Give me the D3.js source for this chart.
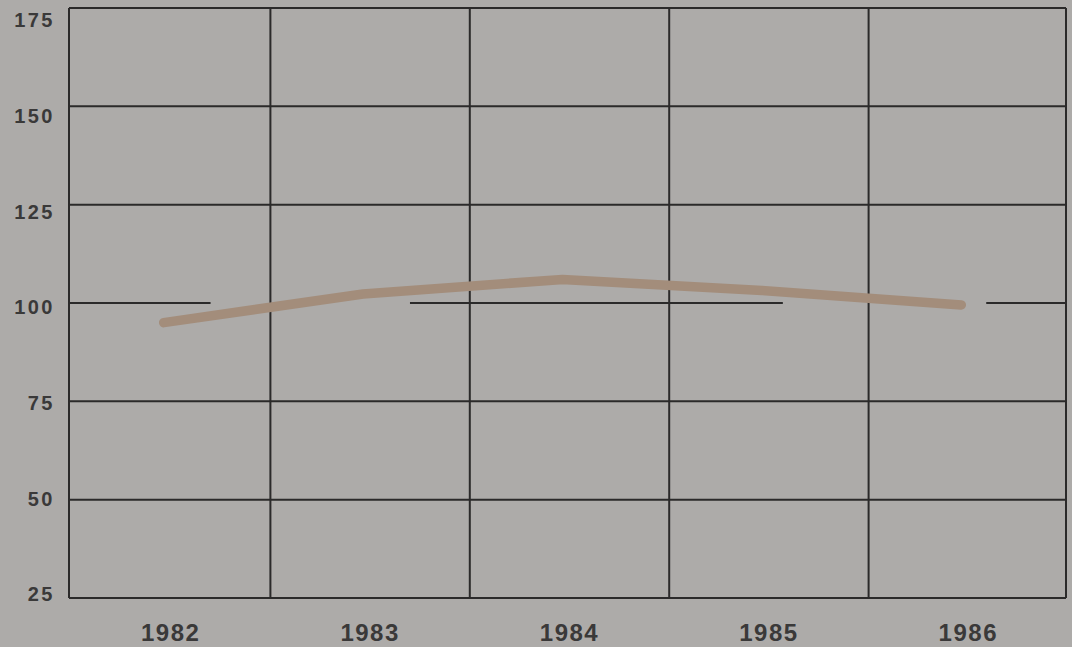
<!DOCTYPE html>
<html>
<head>
<meta charset="utf-8">
<script src="https://cdn.jsdelivr.net/npm/d3@7"></script>
<style>
  html, body { margin: 0; padding: 0; background: #adaba9; }
  svg { display: block; }
</style>
</head>
<body>
<svg id="chart" width="1072" height="647"></svg>
<script>
// ---- data ----
const years = ["1982", "1983", "1984", "1985", "1986"];
const values = [95, 102.3, 106, 103.2, 99.5];
const yTicks = [175, 150, 125, 100, 75, 50, 25];
// reference line at 100 is drawn in broken segments (in year units)
const refValue = 100;
const refSegments = [[1981.5, 1982.21], [1983.21, 1985.08], [1986.1, 1986.5]];

(function () {
const pLeft = 69, pRight = 1066, pTop = 8, pBottom = 598;

const svg = d3.select("#chart");

const x = d3.scaleBand().domain(years).range([pLeft + 2, pRight + 2]).padding(0);
const xYear = d3.scaleLinear().domain([1981.5, 1986.5]).range([pLeft, pRight]);
const y = d3.scaleLinear().domain([25, 175]).range([pBottom, pTop]);
const yLabel = d3.scaleLinear().domain([25, 175]).range([594, 20]);

const ink = "#2b2a2a";

// horizontal grid lines (except 100, which is broken)
svg.append("g").selectAll("line")
  .data(yTicks.filter(v => v !== refValue))
  .join("line")
  .attr("x1", pLeft).attr("x2", pRight)
  .attr("y1", d => y(d)).attr("y2", d => y(d))
  .attr("stroke", ink).attr("stroke-width", 2);

// vertical grid lines at band boundaries
const bounds = [pLeft].concat(years.slice(1).map(yr => x(yr))).concat([pRight]);
svg.append("g").selectAll("line")
  .data(bounds)
  .join("line")
  .attr("x1", d => d).attr("x2", d => d)
  .attr("y1", pTop).attr("y2", pBottom)
  .attr("stroke", ink).attr("stroke-width", 2);

// broken reference line at 100
svg.append("g").selectAll("line")
  .data(refSegments)
  .join("line")
  .attr("x1", d => xYear(d[0])).attr("x2", d => xYear(d[1]))
  .attr("y1", y(refValue)).attr("y2", y(refValue))
  .attr("stroke", ink).attr("stroke-width", 2);

// data line
const pts = years.map((yr, i) => [x(yr) + x.bandwidth() / 2 - 7, y(values[i])]);
svg.append("path")
  .attr("d", d3.line()(pts))
  .attr("fill", "none")
  .attr("stroke", "#a38d7b")
  .attr("stroke-width", 9.5)
  .attr("stroke-linecap", "round")
  .attr("stroke-linejoin", "round");

// y labels
svg.append("g").selectAll("text")
  .data(yTicks)
  .join("text")
  .attr("x", 55)
  .attr("y", d => yLabel(d))
  .attr("dy", "0.36em")
  .attr("text-anchor", "end")
  .attr("font-family", "Liberation Sans, Arial, sans-serif")
  .attr("font-weight", "bold")
  .attr("font-size", 20)
  .attr("letter-spacing", 2.5)
  .attr("fill", "#3a3939")
  .text(d => d);

// x labels
svg.append("g").selectAll("text")
  .data(years)
  .join("text")
  .attr("x", d => x(d) + x.bandwidth() / 2)
  .attr("y", 641)
  .attr("text-anchor", "middle")
  .attr("font-family", "Liberation Sans, Arial, sans-serif")
  .attr("font-weight", "bold")
  .attr("font-size", 24)
  .attr("letter-spacing", 1.5)
  .attr("fill", "#3a3939")
  .text(d => d);
})();
</script>
</body>
</html>
